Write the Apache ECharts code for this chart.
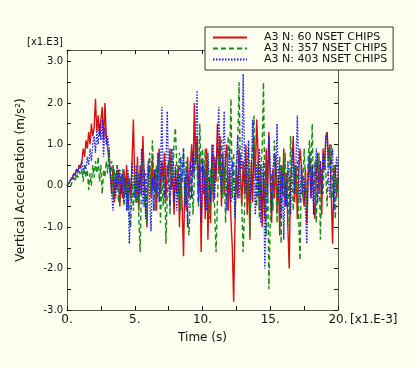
<!DOCTYPE html>
<html>
<head>
<meta charset="utf-8">
<script src="https://cdn.jsdelivr.net/npm/echarts@6/dist/echarts.min.js"></script>
<style>
  html, body { margin: 0; padding: 0; background: #fffff0; }
  #chart { width: 419px; height: 368px; }
</style>
</head>
<body>
<div id="chart"></div>
<script>
// Sample spacing (ms) of the recorded signals
const timeStep = 0.1;

const seriesNames = ['A3 N: 60 NSET CHIPS', 'A3 N: 357 NSET CHIPS', 'A3 N: 403 NSET CHIPS'];
const seriesColors = ['#d41010', '#1a8a1a', '#1a1aff'];
const seriesDash = ['solid', [5, 3], [1.5, 1.5]];

// Vertical acceleration [x1.E3 m/s^2], samples at t = 0, 0.1, ... 20 [x1.E-3 s]
const accel60 = [
  0, 0.05, 0.1, 0.15, 0.2, 0.3, 0.25, 0.4, 0.35, 0.5, 0.45,
  0.6, 0.9, 0.7, 1.1, 0.9, 1.3, 1.0, 1.5, 1.2, 1.4,
  2.1, 1.3, 1.7, 1.2, 1.6, 1.9, 1.1, 2.0, 1.2, 0.9,
  0.6, 0.3, -0.2, 0.5, -0.4, 0.3, -0.1, 0.4, -0.5, 0.2,
  -0.3, 0.4, -0.2, 0.5, -0.6, 0.2, -0.3, 0.6, 1.6, 0.1,
  -0.4, 0.7, -0.6, 0.5, -0.2, 1.2, 0.2, -0.5, -1.0, 0.3,
  0.5, -0.3, 0.7, -0.1, 0.4, -0.6, 0.3, 0.9, -0.2, 0.6,
  0.1, 0.8, -0.4, 0.5, 0.2, 0.9, -0.1, 0.3, -0.7, 0.4,
  -0.2, 0.5, -1.0, 0.3, -0.5, -1.7, 0.2, -0.6, 0.7, -0.3,
  0.4, 1.0, 0.2, 2.0, 0.5, 1.2, -0.2, 0.8, -1.6, 0.3,
  0.5, -0.8, 0.9, -1.3, 0.2, -0.9, 1.0, -0.4, 0.7, 0.1,
  1.5, 0.3, 1.2, -0.5, 0.8, -0.2, 0.7, 1.0, -0.6, 0.4,
  -0.8, -1.5, -2.8, -0.9, 0.5, -0.3, 0.9, 0.3, -0.5, 0.6,
  -0.2, 1.0, -0.7, 0.4, -1.3, 0.6, -0.4, 1.2, 0.2, 1.6,
  0.8, -0.6, 0.5, -1.0, 0.3, -0.8, 0.9, -0.3, 1.3, 0.1,
  -0.9, 0.4, -0.3, 0.7, -0.6, 0.2, -1.2, 0.5, -0.2, 0.9,
  -0.5, 0.3, -1.0, -2.0, 0.2, 0.6, 1.2, -0.4, 0.5, -0.8,
  0.3, 0.9, 0.5, -0.2, -0.5, 0.4, -0.9, 0.2, 0.7, -0.3,
  0.5, -0.4, -0.8, 0.3, 0.8, -0.2, 0.6, -0.7, 0.9, 0.4,
  1.2, 1.3, 0.6, 1.0, -0.2, -1.4, 0.2, 0.5, -0.3, 0.2
];

const accel357 = [
  0, 0.05, 0.1, 0.0, 0.15, 0.2, 0.1, 0.3, 0.2, 0.35, 0.25,
  0.4, 0.1, 0.5, 0.2, 0.4, -0.1, 0.3, 0.0, 0.5, 0.2,
  0.6, 0.3, 0.7, 0.1, 0.5, -0.2, 0.4, 0.2, 0.6, 0.3,
  0.9, 0.2, 0.6, -0.3, 0.4, 0.0, 0.5, -0.4, 0.3, 0.1,
  0.4, -0.5, 0.2, -0.3, 0.3, -0.8, -1.0, 0.1, -0.6, 0.3,
  -0.4, 0.5, -0.8, -1.6, 0.2, 0.6, -0.5, 0.3, -0.9, 0.4,
  0.8, -0.2, 1.1, 0.3, -0.6, 0.5, -0.3, 0.7, -0.9, 0.2,
  -0.5, 0.4, -1.4, -0.2, 0.6, -0.7, 0.9, 0.2, 1.0, 1.4,
  0.5, -0.3, 0.8, -0.6, 0.3, 0.9, -0.4, 0.6, -0.8, -1.2,
  -0.3, 0.5, -0.7, 0.2, 1.0, 0.4, -0.5, 1.5, 0.3, 0.9,
  0.2, 0.9, -0.4, 0.6, -0.8, 0.4, -0.2, 0.8, -0.6, -1.6,
  -0.4, 0.7, 0.2, 1.1, -0.3, 0.5, -0.9, 0.3, 1.2, 0.6,
  2.1, -0.3, 0.8, -0.7, 0.4, 1.0, 2.5, 0.2, -0.5, -1.6,
  -0.6, 0.5, -0.2, 0.9, -1.2, 0.3, 1.0, 1.7, 0.4, -0.5,
  0.6, -0.8, 0.3, 0.9, 2.5, -0.3, -1.2, 0.6, -2.5, -0.9,
  0.3, -0.6, 1.1, 0.4, -0.9, 0.2, 0.7, -1.4, 0.5, -0.3,
  0.8, -0.5, 0.4, -1.0, 1.2, 0.3, -0.6, 0.5, -0.2, 0.6,
  -0.8, -1.8, 0.4, -0.3, 0.9, 0.2, -0.6, 0.7, 1.1, 0.3,
  1.5, -0.4, 0.6, -0.9, 0.2, 0.8, -1.3, 0.4, -0.2, 0.7,
  0.3, -0.5, 0.9, 0.4, 1.0, -0.3, 0.5, -0.8, 0.2, 0.0
];

const accel403 = [
  0, 0.05, 0.1, 0.2, 0.15, 0.3, 0.25, 0.4, 0.3, 0.5, 0.4,
  0.6, 0.3, 0.5, 0.4, 0.7, 0.5, 0.9, 0.6, 1.0, 1.2,
  0.8, 1.3, 1.0, 1.5, 1.1, 1.6, 0.7, 1.4, 1.0, 1.2,
  0.9, 0.3, -0.2, -0.6, 0.2, -0.3, 0.5, 0.0, 0.4, -0.2,
  0.3, -0.4, 0.2, -0.6, 0.4, -1.4, -0.5, 0.6, 0.1, -0.3,
  0.5, -0.4, 0.3, -0.2, 0.9, -0.5, 0.4, -0.8, 0.2, 0.6,
  -0.3, -1.1, 0.2, -0.6, 0.4, -0.2, 0.8, -0.4, 0.3, 1.9,
  0.2, -0.3, 0.6, 1.8, 0.1, -0.5, 0.4, 0.9, -0.4, 0.5,
  -0.6, 0.3, -0.2, 0.7, 0.1, 0.9, -0.5, 0.4, -1.0, 0.2,
  0.6, -0.3, 0.8, 0.3, 1.2, 2.3, -0.4, 0.5, -0.9, 0.6,
  -0.2, 0.4, -0.6, 0.8, 0.1, -0.4, 0.6, 1.0, -0.3, 0.5,
  0.9, 1.9, 0.3, -0.2, 0.7, 1.8, 0.2, -0.6, 0.4, 0.9,
  -0.4, 0.6, 0.1, -0.8, 0.5, 1.2, -0.3, 0.8, 0.4, 2.7,
  0.6, -0.2, 0.5, 1.1, -0.4, 0.3, 1.6, 0.2, -0.7, 0.5,
  -0.3, 0.9, -0.9, 0.2, 0.6, -2.0, -0.4, 0.3, 1.2, 0.5,
  -0.6, 0.4, 0.8, 0.2, 1.5, -0.3, 0.5, -0.8, 0.3, -1.3,
  0.2, -0.5, 0.6, 0.1, -0.7, 0.4, 0.9, -0.2, 0.6, 1.7,
  0.3, -0.4, 0.5, -0.2, 0.2, -0.6, -1.4, 0.4, 0.8, -0.3,
  0.5, -0.7, 0.2, 0.9, -0.4, 0.3, 0.6, -0.2, 0.8, 0.4,
  1.0, 1.3, 0.2, -0.3, 0.6, 0.9, -0.6, 0.3, 0.7, 0.1
];

const xTickLabels = { 0: '0.', 5: '5.', 10: '10.', 15: '15.', 20: '20.' };
const yTickLabels = { '-3': '-3.0', '-2': '-2.0', '-1': '-1.0', '0': '0.0', '1': '1.0', '2': '2.0', '3': '3.0' };

function pairs(values) {
  return values.map((v, i) => [Math.round(i * timeStep * 10) / 10, v]);
}

const FONT = 'DejaVu Sans';
const axisLineStyle = { color: '#555', width: 1 };
const tickStyle = { show: true, inside: true, length: 4, lineStyle: { color: '#111' } };

const chart = echarts.init(document.getElementById('chart'), null, { renderer: 'canvas' });
chart.setOption({
  backgroundColor: '#fffff0',
  animation: false,
  grid: { left: 67, right: 81, top: 50, bottom: 58 },
  legend: {
    orient: 'vertical',
    left: 205, top: 27,
    padding: [5, 6, 5, 7],
    itemWidth: 34, itemHeight: 12, itemGap: 0,
    itemStyle: { opacity: 0 },
    borderColor: '#333', borderWidth: 1,
    backgroundColor: '#fffff0',
    textStyle: { fontFamily: FONT, fontSize: 11, color: '#111', padding: [0, 0, 0, 12] },
    data: seriesNames
  },
  xAxis: [{
    type: 'value', min: 0, max: 20, interval: 2.5, position: 'bottom',
    axisLine: { show: true, onZero: false, lineStyle: axisLineStyle },
    axisTick: tickStyle,
    splitLine: { show: false },
    axisLabel: {
      fontFamily: FONT, fontSize: 12, color: '#111', margin: 4,
      formatter: v => xTickLabels[v] !== undefined ? xTickLabels[v] : ''
    },
    name: 'Time (s)', nameLocation: 'middle', nameGap: 22,
    nameTextStyle: { fontFamily: FONT, fontSize: 12, color: '#111' }
  }, {
    type: 'value', min: 0, max: 20, interval: 2.5, position: 'top',
    axisLine: { show: true, onZero: false, lineStyle: axisLineStyle },
    axisTick: tickStyle, axisLabel: { show: false }, splitLine: { show: false }
  }],
  yAxis: [{
    type: 'value', min: -3, max: 3.28, interval: 0.5, position: 'left',
    axisLine: { show: true, onZero: false, lineStyle: axisLineStyle },
    axisTick: tickStyle,
    splitLine: { show: false },
    axisLabel: {
      fontFamily: FONT, fontSize: 10, color: '#111', margin: 4,
      formatter: v => yTickLabels[String(v)] !== undefined ? yTickLabels[String(v)] : ''
    },
    name: 'Vertical Acceleration (m/s²)', nameLocation: 'middle', nameGap: 40, nameRotate: 90,
    nameTextStyle: { fontFamily: FONT, fontSize: 12, color: '#111' }
  }, {
    type: 'value', min: -3, max: 3.28, interval: 0.5, position: 'right',
    axisLine: { show: true, onZero: false, lineStyle: axisLineStyle },
    axisTick: tickStyle, axisLabel: { show: false }, splitLine: { show: false }
  }],
  graphic: [
    { type: 'text', left: 27, top: 37, style: { text: '[x1.E3]', fontFamily: FONT, fontSize: 10, fill: '#111' } },
    { type: 'text', left: 350, top: 314, style: { text: '[x1.E-3]', fontFamily: FONT, fontSize: 12, fill: '#111' } }
  ],
  series: [accel60, accel357, accel403].map((vals, i) => ({
    name: seriesNames[i], type: 'line', symbol: 'none', data: pairs(vals),
    lineStyle: { color: seriesColors[i], width: 1.4, type: seriesDash[i] },
    itemStyle: { color: seriesColors[i] }
  }))
});
</script>
</body>
</html>
